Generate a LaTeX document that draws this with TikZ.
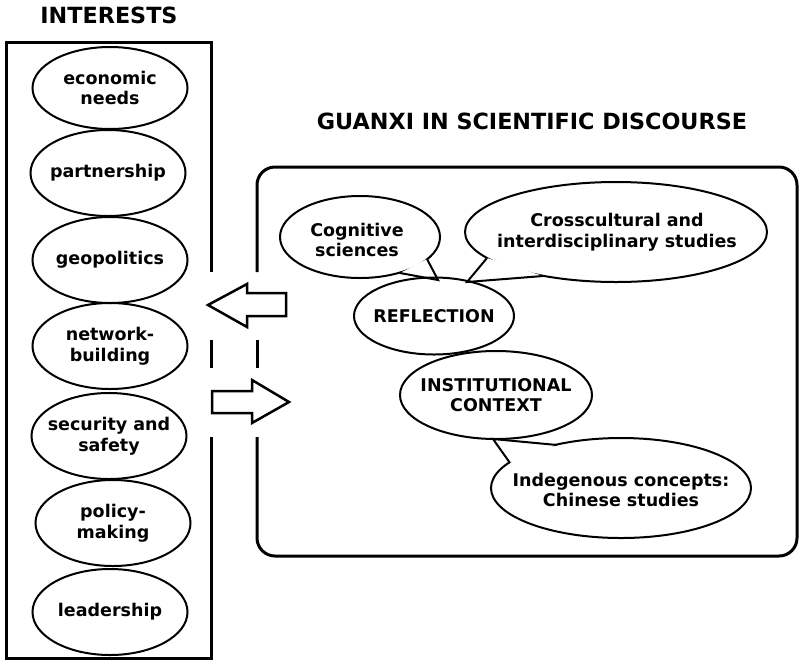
\documentclass[tikz,border=0pt]{standalone}
\usepackage{fontspec}
\setmainfont{DejaVu Sans}
\usetikzlibrary{shapes.geometric}
\newcommand{\bodyfnt}{\fontsize{17.5}{20.5}\selectfont\bfseries}
\newcommand{\titlefnt}{\fontsize{22.3}{25}\selectfont\bfseries}
\begin{document}
\begin{tikzpicture}[x=1pt,y=-1pt,
  ell/.style={draw, ellipse, line width=2pt, inner sep=0pt},
  lefty/.style={ell, minimum width=155pt, minimum height=86pt},
  txt/.style={font=\bodyfnt, align=center, inner sep=0pt},
  tail/.style={line width=2pt, line join=miter},
  frame/.style={line width=3pt},
  bigarrow/.style={draw, line width=2.5pt, fill=white, line join=miter},
  title/.style={font=\titlefnt, inner sep=0pt}]
\useasboundingbox (0,0) rectangle (799,662);

% titles
\node[title] (tInt) at (109,15) {INTERESTS};
\node[title] (tGua) at (532,121) {GUANXI IN SCIENTIFIC DISCOURSE};

% left frame
\draw[frame, line join=miter] (211,272) -- (211,42) -- (6,42) -- (6,658) -- (211,658) -- (211,437);
\draw[frame] (211,340) -- (211,368);

% right rounded frame
\draw[frame, rounded corners=18pt] (257,272) -- (257,167) -- (797,167) -- (797,556) -- (257,556) -- (257,437);
\draw[frame] (257,340) -- (257,368);

% left ellipses
\node[lefty, minimum height=82pt] (econ) at (110,88) {};
\node[txt] (econT) at (econ) {economic\\needs};
\node[lefty] (part) at (108,173) {};
\node[txt] (partT) at (part) {partnership};
\node[lefty] (geo) at (110,260) {};
\node[txt] (geoT) at (geo) {geopolitics};
\node[lefty] (net) at (110,346) {};
\node[txt] (netT) at (net) {network-\\building};
\node[lefty] (sec) at (109,436) {};
\node[txt] (secT) at (sec) {security and\\safety};
\node[lefty] (pol) at (113,523) {};
\node[txt] (polT) at (pol) {policy-\\making};
\node[lefty] (lead) at (110,612) {};
\node[txt] (leadT) at (lead) {leadership};

% arrows
\draw[bigarrow] (208,305) -- (247,284) -- (247,293) -- (286,293) -- (286,316) -- (247,316) -- (247,327) -- cycle;
\draw[bigarrow] (212,391) -- (252,391) -- (252,380) -- (289,402) -- (252,423) -- (252,413) -- (212,413) -- cycle;

% speech bubbles
\node[ell, minimum width=160pt, minimum height=82pt] (cog) at (360,237) {};
\node[txt] (cogT) at (357,240) {Cognitive\\sciences};
\node[ell, minimum width=302pt, minimum height=100pt] (cross) at (616,232) {};
\node[txt] (crossT) at (617,232) {Crosscultural and\\interdisciplinary studies};
\node[ell, minimum width=260pt, minimum height=100pt] (ind) at (621,488) {};
\node[txt] (indT) at (621,490) {Indegenous concepts:\\Chinese studies};

\coordinate (cogA) at (427,259);
\coordinate (cogB) at (400,273);
\coordinate (cogTip) at (438,280);
\coordinate (crA) at (487,258);
\coordinate (crB) at (543,276);
\coordinate (crTip) at (467,282);
\coordinate (inA) at (510,463);
\coordinate (inB) at (557,445);
\coordinate (inTip) at (493,439);

\fill[white] (cogA) -- (cogTip) -- (cogB) -- cycle;
\draw[tail] (cogA) -- (cogTip) -- (cogB);
\fill[white] (crA) -- (crTip) -- (crB) -- cycle;
\draw[tail] (crA) -- (crTip) -- (crB);
\fill[white] (inA) -- (inTip) -- (inB) -- cycle;
\draw[tail] (inA) -- (inTip) -- (inB);

% central ellipses
\node[ell, minimum width=160pt, minimum height=77pt] (refl) at (434,316) {};
\node[txt] (reflT) at (refl) {REFLECTION};
\node[ell, minimum width=192pt, minimum height=88pt] (inst) at (496,395) {};
\node[txt] (instT) at (inst) {INSTITUTIONAL\\CONTEXT};
\end{tikzpicture}
\end{document}
